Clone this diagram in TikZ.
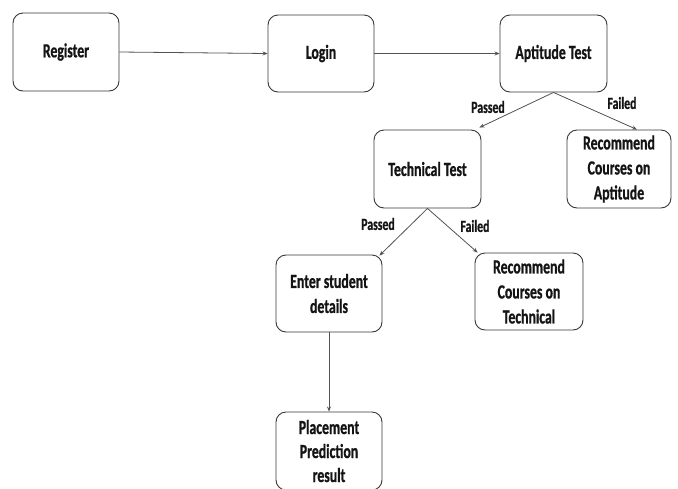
\documentclass[tikz,border=0pt]{standalone}
\usepackage{fontspec}
\setmainfont[FakeStretch=0.69,FakeBold=0.8]{Carlito Bold}
\usetikzlibrary{arrows.meta}
\begin{document}
\begin{tikzpicture}[x=1pt,y=-1pt,
  box/.style={draw=black!78,line width=0.9pt,rounded corners=10pt,fill=white,
    align=center,font=\fontsize{20}{25}\selectfont,text=black!92,inner sep=0pt},
  conn/.style={draw=black!68,line width=0.8pt,-{Stealth[length=5pt,width=4pt]}},
  lbl/.style={font=\fontsize{17}{19}\selectfont,text=black!92}]
\useasboundingbox (0,0) rectangle (678,488);
\clip (0,0) rectangle (678,488);
\node[box,minimum width=106pt,minimum height=78pt] (reg) at (66,52) {Register};
\node[box,minimum width=106pt,minimum height=77pt] (login) at (321,53.5) {Login};
\node[box,minimum width=107pt,minimum height=77pt] (apt) at (553.5,53.5) {Aptitude Test};
\node[box,minimum width=107pt,minimum height=78pt] (tech) at (427.5,169) {Technical Test};
\node[box,minimum width=104pt,minimum height=78pt] (recapt) at (619,169) {Recommend\\Courses on\\Aptitude};
\node[box,minimum width=106pt,minimum height=77pt] (enter) at (329,293.5) {Enter student\\details};
\node[box,minimum width=108pt,minimum height=77pt] (rectech) at (529,291.5) {Recommend\\Courses on\\Technical};
\node[box,minimum width=106pt,minimum height=78pt,text depth=0pt,font=\fontsize{20}{24}\selectfont] (place) at (329,451) {Placement\\Prediction\\result};
\draw[conn] (reg.east) -- (login.west);
\draw[conn] (login.east) -- (apt.west);
\draw[conn] (apt.south) -- ([xshift=-2pt,yshift=2pt]tech.north east);
\draw[conn] (apt.south) -- ([xshift=18pt]recapt.north);
\draw[conn] (tech.south) -- ([xshift=-3pt,yshift=-1pt]enter.north east);
\draw[conn] (tech.south) -- ([xshift=3pt]rectech.north west);
\draw[conn] (enter.south) -- (place.north);
\node[lbl] (l1) at (488,107) {Passed};
\node[lbl] (l2) at (622,103) {Failed};
\node[lbl] (l3) at (378,224) {Passed};
\node[lbl] (l4) at (475,226) {Failed};
\end{tikzpicture}
\end{document}
